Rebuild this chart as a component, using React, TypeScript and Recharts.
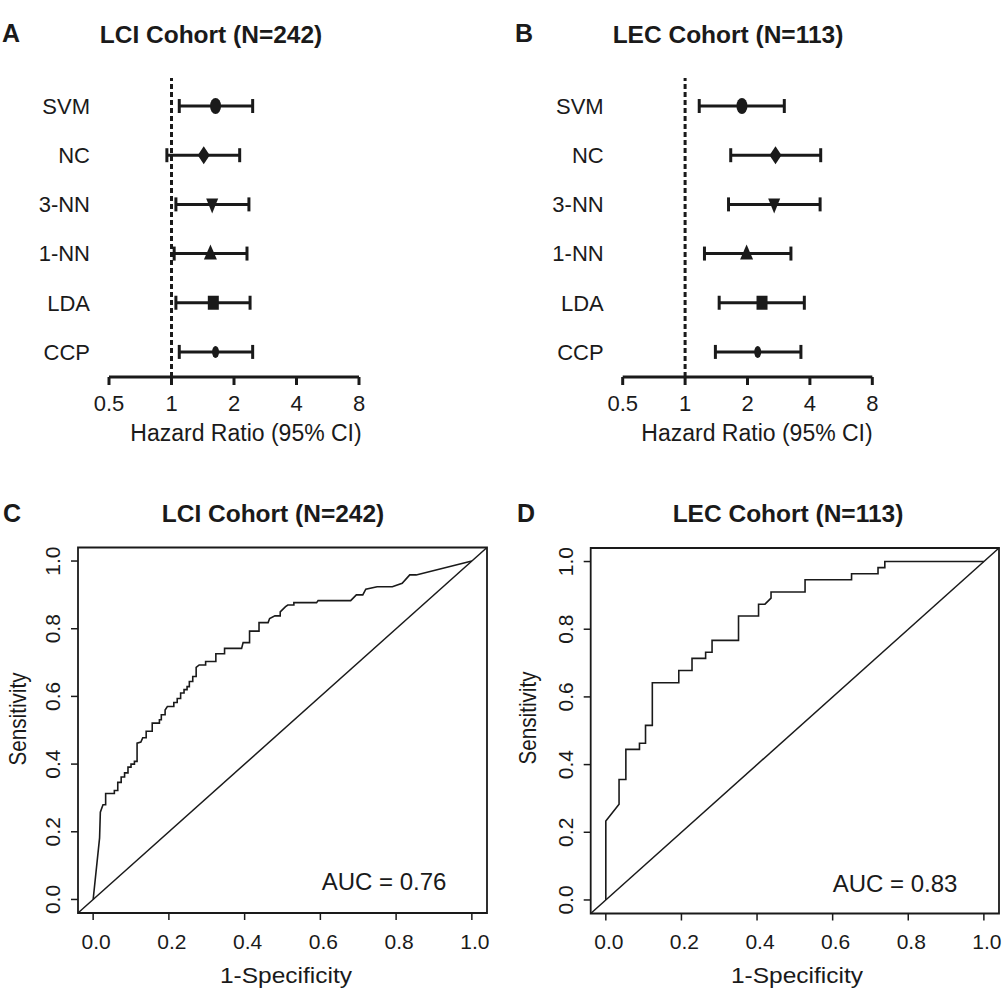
import React from 'react';
import {
  ScatterChart,
  Scatter,
  XAxis,
  YAxis,
  ErrorBar,
  ReferenceLine,
  ReferenceArea,
  LineChart,
  Line,
} from 'recharts';

const FONT = '"Liberation Sans", Arial, Helvetica, sans-serif';
const INK = '#1a1a1a';

// ---------- Forest plot data ----------
const methods = ['SVM', 'NC', '3-NN', '1-NN', 'LDA', 'CCP'];
const lciHR = [1.63, 1.43, 1.57, 1.54, 1.59, 1.63];
const lciLower = [1.09, 0.95, 1.05, 1.03, 1.05, 1.09];
const lciUpper = [2.46, 2.13, 2.36, 2.31, 2.39, 2.46];
const lecHR = [1.88, 2.73, 2.69, 1.98, 2.35, 2.24];
const lecLower = [1.17, 1.66, 1.62, 1.24, 1.46, 1.4];
const lecUpper = [3.01, 4.51, 4.48, 3.24, 3.76, 3.62];
const hrTicks = [0.5, 1, 2, 4, 8];

// ---------- ROC data (1-Specificity, Sensitivity) ----------
const lciRoc = [
  [0, 0], [0.017, 0.182], [0.019, 0.258], [0.026, 0.28], [0.033, 0.28], [0.033, 0.313],
  [0.056, 0.313], [0.056, 0.322], [0.065, 0.322], [0.065, 0.346], [0.074, 0.346], [0.074, 0.362],
  [0.083, 0.362], [0.083, 0.374], [0.092, 0.374], [0.092, 0.391], [0.1, 0.391], [0.1, 0.4],
  [0.109, 0.4], [0.109, 0.408], [0.116, 0.408], [0.116, 0.462], [0.126, 0.465], [0.131, 0.478],
  [0.14, 0.478], [0.14, 0.497], [0.156, 0.497], [0.156, 0.521], [0.175, 0.521], [0.175, 0.531],
  [0.18, 0.531], [0.18, 0.546], [0.19, 0.546], [0.19, 0.56], [0.196, 0.57], [0.213, 0.57],
  [0.213, 0.582], [0.222, 0.582], [0.222, 0.594], [0.231, 0.594], [0.231, 0.61], [0.24, 0.61],
  [0.24, 0.62], [0.248, 0.62], [0.248, 0.629], [0.254, 0.629], [0.254, 0.644], [0.263, 0.644],
  [0.263, 0.659], [0.272, 0.659], [0.272, 0.686], [0.28, 0.693], [0.297, 0.693], [0.297, 0.703],
  [0.324, 0.703], [0.324, 0.726], [0.347, 0.726], [0.347, 0.742], [0.392, 0.742], [0.396, 0.759],
  [0.413, 0.759], [0.413, 0.793], [0.438, 0.793], [0.438, 0.818], [0.462, 0.818], [0.466, 0.83],
  [0.48, 0.838], [0.494, 0.838], [0.494, 0.85], [0.508, 0.865], [0.514, 0.87], [0.53, 0.87],
  [0.53, 0.877], [0.59, 0.877], [0.594, 0.883], [0.68, 0.883], [0.695, 0.9], [0.712, 0.9],
  [0.72, 0.917], [0.75, 0.924], [0.79, 0.924], [0.816, 0.934], [0.836, 0.959], [0.853, 0.959],
  [1, 1],
];
const lecRoc = [
  [0, 0], [0, 0.233], [0.035, 0.283], [0.035, 0.356], [0.053, 0.356], [0.053, 0.445],
  [0.089, 0.445], [0.089, 0.463], [0.105, 0.463], [0.105, 0.516], [0.123, 0.516], [0.123, 0.642],
  [0.193, 0.642], [0.193, 0.678], [0.228, 0.678], [0.228, 0.714], [0.264, 0.714], [0.264, 0.732],
  [0.281, 0.732], [0.281, 0.767], [0.351, 0.767], [0.351, 0.839], [0.404, 0.839], [0.404, 0.874],
  [0.421, 0.874], [0.437, 0.892], [0.437, 0.91], [0.527, 0.91], [0.527, 0.946], [0.65, 0.946],
  [0.65, 0.964], [0.72, 0.964], [0.72, 0.982], [0.738, 0.982], [0.738, 1], [1, 1],
];
const rocTicks = [0, 0.2, 0.4, 0.6, 0.8, 1];
const lciAuc = '0.76';
const lecAuc = '0.83';

// ---------- helpers ----------
const markerKind: Record<string, string> = {
  SVM: 'bigDot',
  NC: 'diamond',
  '3-NN': 'triDown',
  '1-NN': 'triUp',
  LDA: 'square',
  CCP: 'smallDot',
};

function forestRows(hr: number[], lo: number[], hi: number[]) {
  return methods.map((name, i) => ({
    name,
    pos: methods.length - i,
    hr: hr[i],
    err: [hr[i] - lo[i], hi[i] - hr[i]],
  }));
}

function Marker(props: any) {
  const { cx, cy, payload } = props;
  if (cx == null || cy == null) return null;
  const kind = markerKind[payload.name];
  switch (kind) {
    case 'bigDot':
      return <ellipse cx={cx} cy={cy} rx={5.5} ry={8} fill={INK} />;
    case 'smallDot':
      return <ellipse cx={cx} cy={cy} rx={3.5} ry={6} fill={INK} />;
    case 'diamond':
      return <polygon points={`${cx},${cy - 9} ${cx + 6},${cy} ${cx},${cy + 9} ${cx - 6},${cy}`} fill={INK} />;
    case 'triDown':
      return <polygon points={`${cx - 6},${cy - 6} ${cx + 6},${cy - 6} ${cx},${cy + 9}`} fill={INK} />;
    case 'triUp':
      return <polygon points={`${cx},${cy - 9} ${cx + 6.5},${cy + 6} ${cx - 6.5},${cy + 6}`} fill={INK} />;
    case 'square':
      return <rect x={cx - 5.5} y={cy - 7} width={11} height={14} fill={INK} />;
    default:
      return <circle cx={cx} cy={cy} r={5} fill={INK} />;
  }
}

function ForestPanel({ left, rows, yWidth, rightMargin }: any) {
  return (
    <div style={{ position: 'absolute', left, top: 0 }}>
      <ScatterChart
        width={400}
        height={420}
        margin={{ top: 78, right: rightMargin, bottom: 0, left: 0 }}
      >
        <XAxis
          type="number"
          dataKey="hr"
          scale="log"
          domain={[0.5, 8]}
          ticks={hrTicks}
          allowDataOverflow
          interval={0}
          height={43}
          axisLine={{ stroke: INK, strokeWidth: 3 }}
          tickLine={{ stroke: INK, strokeWidth: 3 }}
          tickSize={8}
          tickMargin={10}
          tick={{ fontSize: 22, fill: INK, fontFamily: FONT }}
          tickFormatter={(v: number) => String(v)}
        />
        <YAxis
          type="number"
          dataKey="pos"
          domain={[0.49, 6.57]}
          ticks={[1, 2, 3, 4, 5, 6]}
          allowDataOverflow
          interval={0}
          width={yWidth}
          axisLine={false}
          tickLine={false}
          tickSize={0}
          tickMargin={19}
          tick={{ fontSize: 22, fill: INK, fontFamily: FONT }}
          tickFormatter={(v: number) => methods[methods.length - v]}
        />
        <ReferenceLine x={1} stroke={INK} strokeWidth={3} strokeDasharray="5 3" />
        <Scatter data={rows} shape={Marker} isAnimationActive={false}>
          <ErrorBar dataKey="err" direction="x" width={7} stroke={INK} strokeWidth={3} />
        </Scatter>
      </ScatterChart>
    </div>
  );
}

function RotTick(props: any) {
  const { x, y, payload } = props;
  return (
    <text
      x={x}
      y={y}
      transform={`rotate(-90 ${x} ${y})`}
      textAnchor="middle"
      fontSize={21}
      fill={INK}
      fontFamily={FONT}
    >
      {Number(payload.value).toFixed(1)}
    </text>
  );
}

function RocPanel({ left, width, points, yWidth, rightMargin, top }: any) {
  const data = points.map((p: number[]) => ({ fpr: p[0], tpr: p[1] }));
  return (
    <div style={{ position: 'absolute', left, top: 500 }}>
      <LineChart
        width={width}
        height={495}
        data={data}
        margin={{ top, right: rightMargin, bottom: 0, left: 0 }}
      >
        <XAxis
          type="number"
          dataKey="fpr"
          domain={[-0.04, 1.04]}
          ticks={rocTicks}
          allowDataOverflow
          interval={0}
          height={495 - 365.5 - top}
          axisLine={false}
          tickLine={{ stroke: INK, strokeWidth: 1.5 }}
          tickSize={7}
          tickMargin={14}
          tick={{ fontSize: 21, fill: INK, fontFamily: FONT, dx: 3 }}
          tickFormatter={(v: number) => v.toFixed(1)}
        />
        <YAxis
          type="number"
          dataKey="tpr"
          domain={[-0.04, 1.04]}
          ticks={rocTicks}
          allowDataOverflow
          interval={0}
          width={yWidth}
          axisLine={false}
          tickLine={{ stroke: INK, strokeWidth: 1.5 }}
          tickSize={7}
          tickMargin={11}
          tick={<RotTick />}
        />
        <ReferenceArea
          x1={-0.04}
          x2={1.04}
          y1={-0.04}
          y2={1.04}
          fill="none"
          fillOpacity={0}
          stroke={INK}
          strokeWidth={1.8}
          ifOverflow="visible"
        />
        <ReferenceLine
          segment={[{ x: -0.04, y: -0.04 }, { x: 1.04, y: 1.04 }]}
          stroke={INK}
          strokeWidth={1.5}
          ifOverflow="visible"
        />
        <Line
          type="linear"
          dataKey="tpr"
          stroke={INK}
          strokeWidth={1.6}
          dot={false}
          isAnimationActive={false}
        />
      </LineChart>
    </div>
  );
}

function T({ x, y, children, size = 22, bold = false, anchor = 'middle', rotate = false, len }: any) {
  return (
    <text
      x={x}
      y={y}
      fontSize={size}
      fontWeight={bold ? 'bold' : 'normal'}
      textAnchor={anchor}
      fill={INK}
      fontFamily={FONT}
      textLength={len}
      lengthAdjust={len ? 'spacingAndGlyphs' : undefined}
      transform={rotate ? `rotate(-90 ${x} ${y})` : undefined}
    >
      {children}
    </text>
  );
}

export default function App() {
  const lciRows = forestRows(lciHR, lciLower, lciUpper);
  const lecRows = forestRows(lecHR, lecLower, lecUpper);
  return (
    <div
      style={{
        position: 'absolute',
        left: 0,
        top: 0,
        width: 1003,
        height: 995,
        background: '#fff',
        overflow: 'hidden',
      }}
    >
      <ForestPanel left={0} rows={lciRows} yWidth={109} rightMargin={41} />
      <ForestPanel left={500} rows={lecRows} yWidth={122.7} rightMargin={27.7} />
      <RocPanel left={0} width={500} points={lciRoc} yWidth={78} rightMargin={13} top={47.5} />
      <RocPanel left={500} width={503} points={lecRoc} yWidth={90.7} rightMargin={4} top={48} />
      <svg
        width={1003}
        height={995}
        style={{ position: 'absolute', left: 0, top: 0, pointerEvents: 'none' }}
      >
        <T x={2} y={42} size={25} bold anchor="start">A</T>
        <T x={211} y={43} size={24.5} bold>LCI Cohort (N=242)</T>
        <T x={246} y={441} size={23}>Hazard Ratio (95% CI)</T>
        <T x={515} y={42} size={25} bold anchor="start">B</T>
        <T x={728} y={43} size={24.5} bold>LEC Cohort (N=113)</T>
        <T x={757} y={441} size={23}>Hazard Ratio (95% CI)</T>

        <T x={3} y={522} size={25} bold anchor="start">C</T>
        <T x={273} y={522} size={24.5} bold>LCI Cohort (N=242)</T>
        <T x={26} y={719} size={24} rotate len={93}>Sensitivity</T>
        <T x={286} y={983} size={22} len={132}>1-Specificity</T>
        <T x={384} y={890} size={24}>AUC = {lciAuc}</T>

        <T x={517} y={522} size={25} bold anchor="start">D</T>
        <T x={788} y={522} size={24.5} bold>LEC Cohort (N=113)</T>
        <T x={536} y={718} size={24} rotate len={93}>Sensitivity</T>
        <T x={797} y={983} size={22} len={132}>1-Specificity</T>
        <T x={895} y={892} size={24}>AUC = {lecAuc}</T>
      </svg>
    </div>
  );
}
